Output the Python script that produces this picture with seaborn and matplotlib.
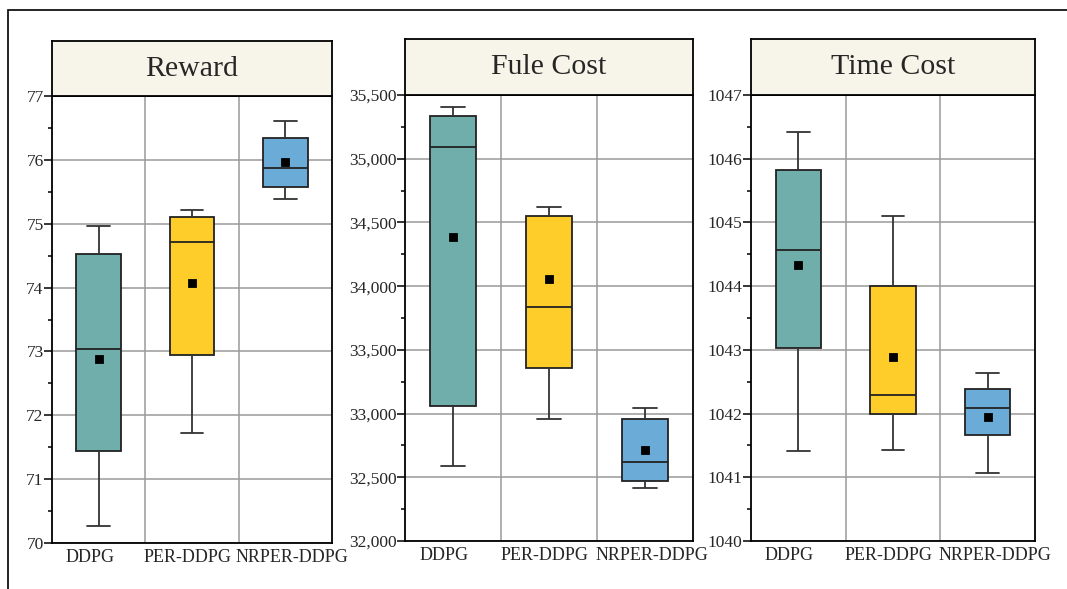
import matplotlib
matplotlib.use("Agg")
import matplotlib.pyplot as plt
import matplotlib.ticker as mticker
import matplotlib.transforms as mtransforms
from matplotlib.patches import Rectangle
import seaborn as sns
import pandas as pd

# ---------------- data ----------------
categories = ["DDPG", "PER-DDPG", "NRPER-DDPG"]
panel_titles = ["Reward", "Fule Cost", "Time Cost"]

reward_min = [70.27, 71.72, 75.39]
reward_q1 = [71.44, 72.94, 75.57]
reward_med = [73.04, 74.71, 75.87]
reward_q3 = [74.53, 75.10, 76.34]
reward_max = [74.96, 75.21, 76.61]
reward_mean = [72.88, 74.07, 75.97]

fuel_min = [32589, 32957, 32416]
fuel_q1 = [33059, 33358, 32471]
fuel_med = [35092, 33836, 32620]
fuel_q3 = [35335, 34550, 32957]
fuel_max = [35406, 34621, 33044]
fuel_mean = [34386, 34056, 32714]

time_min = [1041.41, 1041.43, 1041.07]
time_q1 = [1043.03, 1041.99, 1041.66]
time_med = [1044.57, 1042.29, 1042.09]
time_q3 = [1045.82, 1044.00, 1042.39]
time_max = [1046.42, 1045.10, 1042.64]
time_mean = [1044.33, 1042.89, 1041.95]

reward_ticks = [70, 71, 72, 73, 74, 75, 76, 77]
fuel_ticks = [32000, 32500, 33000, 33500, 34000, 34500, 35000, 35500]
time_ticks = [1040, 1041, 1042, 1043, 1044, 1045, 1046, 1047]

colors = ["#70AEAC", "#FFCD2A", "#6AACD7"]

# ---------------- style ----------------
sns.set_theme(style="white")
plt.rcParams["font.family"] = ["Liberation Serif", "DejaVu Serif"]

fig = plt.figure(figsize=(10.67, 5.89), dpi=100)
W, H = 1067, 589

# outer frame (partially visible)
fig.patches.append(Rectangle((8 / W, -0.2), 1.5, 1.2 - 10 / H, transform=fig.transFigure,
                             fill=False, edgecolor="black", linewidth=1.2))

panels = [
    dict(l=52, r=332, t=96, b=543, st=41, stats=(reward_min, reward_q1, reward_med, reward_q3, reward_max),
         mean=reward_mean, ticks=reward_ticks, fmt=lambda v, p: f"{v:g}"),
    dict(l=405, r=693, t=95, b=541, st=39, stats=(fuel_min, fuel_q1, fuel_med, fuel_q3, fuel_max),
         mean=fuel_mean, ticks=fuel_ticks, fmt=lambda v, p: f"{int(round(v)):,}"),
    dict(l=751, r=1035, t=95, b=541, st=39, stats=(time_min, time_q1, time_med, time_q3, time_max),
         mean=time_mean, ticks=time_ticks, fmt=lambda v, p: f"{int(round(v))}"),
]

label_shift_px = [-9, -4, 7]

for title, pnl in zip(panel_titles, panels):
    rows = []
    for i, cat in enumerate(categories):
        for s in pnl["stats"]:
            rows.append({"algo": cat, "value": s[i]})
    df = pd.DataFrame(rows)

    ax = fig.add_axes([pnl["l"] / W, 1 - pnl["b"] / H, (pnl["r"] - pnl["l"]) / W, (pnl["b"] - pnl["t"]) / H])
    sns.boxplot(data=df, x="algo", y="value", hue="algo", order=categories, hue_order=categories,
                palette=colors, saturation=1, whis=(0, 100), width=0.48, linewidth=1.3, fliersize=0,
                legend=False, ax=ax,
                boxprops=dict(edgecolor="#222222"),
                whiskerprops=dict(color="#333333"),
                capprops=dict(color="#333333"),
                medianprops=dict(color="#222222", linewidth=1.3))
    mdf = pd.DataFrame({"algo": categories, "value": pnl["mean"]})
    sns.pointplot(data=mdf, x="algo", y="value", order=categories, color="black", marker="s",
                  linestyle="none", markersize=5, errorbar=None, ax=ax)
    for ln in ax.lines[-3:]:
        ln.set_zorder(6)
    for c in ax.collections:
        c.set_zorder(6)

    ax.set_xlim(-0.5, 2.5)
    ax.set_ylim(pnl["ticks"][0], pnl["ticks"][-1])
    ax.set_yticks(pnl["ticks"])
    step = pnl["ticks"][1] - pnl["ticks"][0]
    ax.yaxis.set_minor_locator(mticker.MultipleLocator(step / 2))
    ax.yaxis.set_major_formatter(mticker.FuncFormatter(pnl["fmt"]))
    ax.set_xticks([0, 1, 2])
    ax.set_xticklabels(categories)
    ax.xaxis.set_minor_locator(mticker.FixedLocator([0.5, 1.5]))
    ax.set_axisbelow(True)
    ax.grid(True, axis="y", which="major", color="#9a9a9a", linewidth=1.1)
    ax.grid(True, axis="x", which="minor", color="#9a9a9a", linewidth=1.1)
    ax.grid(False, axis="x", which="major")
    ax.tick_params(axis="y", which="major", left=True, length=6, width=1.1, color="black",
                   labelsize=12.5, pad=0)
    ax.tick_params(axis="y", which="minor", left=True, length=3, width=1.1, color="black")
    ax.tick_params(axis="x", which="both", bottom=False, length=0, labelsize=13, pad=4)
    for lab in ax.get_yticklabels():
        lab.set_verticalalignment("center_baseline")
    for lab, dx in zip(ax.get_xticklabels(), label_shift_px):
        lab.set_transform(lab.get_transform() + mtransforms.ScaledTranslation(dx / 100, 0, fig.dpi_scale_trans))
    ax.set_xlabel("")
    ax.set_ylabel("")
    for sp in ax.spines.values():
        sp.set_visible(True)
        sp.set_color("black")
        sp.set_linewidth(1.3)

    sax = fig.add_axes([pnl["l"] / W, 1 - pnl["t"] / H, (pnl["r"] - pnl["l"]) / W, (pnl["t"] - pnl["st"]) / H])
    sax.set_facecolor("#F7F5E9")
    sax.set_xticks([])
    sax.set_yticks([])
    for sp in sax.spines.values():
        sp.set_visible(True)
        sp.set_color("black")
        sp.set_linewidth(1.3)
    sax.text(0.5, 0.5, title, ha="center", va="center", fontsize=21.5, transform=sax.transAxes)

fig.savefig("out.png", dpi=100)
